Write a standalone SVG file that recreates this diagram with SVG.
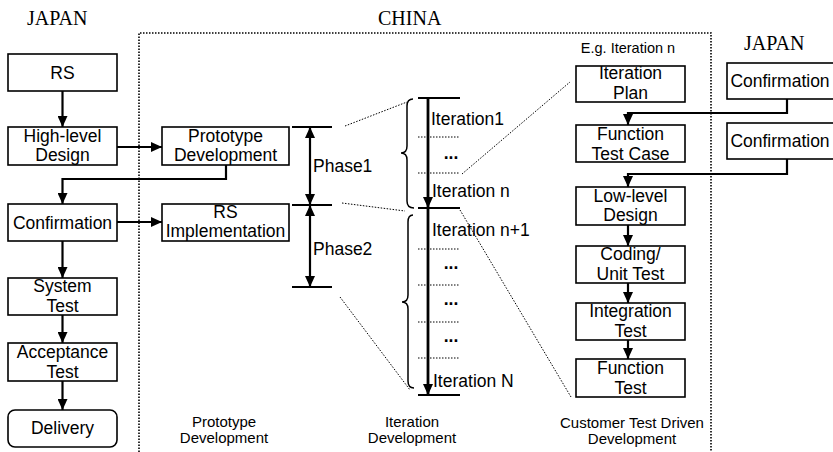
<svg xmlns="http://www.w3.org/2000/svg" width="833" height="452" viewBox="0 0 833 452">
  <style>
    .box { fill: #fff; stroke: #000; stroke-width: 1.6; }
    .lbl { font-family: "Liberation Sans", Arial, sans-serif; font-size: 17.5px; fill: #000; text-anchor: middle; }
    .lft { text-anchor: start; }
    .cap { font-family: "Liberation Sans", Arial, sans-serif; font-size: 15px; fill: #000; text-anchor: middle; }
    .region { font-family: "Liberation Serif", "Times New Roman", serif; font-size: 20px; fill: #000; }
    .dots { font-family: "Liberation Sans", Arial, sans-serif; font-size: 17.5px; font-weight: bold; fill: #000; text-anchor: middle; }
    .conn { fill: none; stroke: #000; stroke-width: 2.2; }
    .thick { fill: none; stroke: #000; stroke-width: 2.8; }
    .tick { fill: none; stroke: #000; stroke-width: 2; }
    .dot { fill: none; stroke: #000; stroke-width: 1; stroke-dasharray: 1.5 1.5; }
    .border { fill: none; stroke: #000; stroke-width: 1.6; stroke-dasharray: 1.5 1.5; }
    .brace { fill: none; stroke: #000; stroke-width: 1.5; }
  </style>
  <defs>
    <marker id="arrow" markerUnits="userSpaceOnUse" markerWidth="11" markerHeight="10" refX="11" refY="5" orient="auto-start-reverse">
      <path d="M0,0 L11,5 L0,10 z" fill="#000"/>
    </marker>
  </defs>

  <!-- region titles and China boundary -->
  <text class="region" x="27" y="25">JAPAN</text>
  <text class="region" x="378" y="25">CHINA</text>
  <text class="region" x="744" y="50">JAPAN</text>
  <path class="border" d="M139,452 L139,33 L711,33 L711,452"/>

  <!-- left column: Japan side -->
  <g id="rs"><rect class="box" x="8" y="54" width="109" height="37"/><text class="lbl" x="62.5" y="79">RS</text></g>
  <g id="high-level-design"><rect class="box" x="8" y="127" width="109" height="38"/><text class="lbl" x="62.5" y="142">High-level</text><text class="lbl" x="62.5" y="161">Design</text></g>
  <g id="confirmation"><rect class="box" x="8" y="204" width="109" height="37"/><text class="lbl" x="62.5" y="228.5">Confirmation</text></g>
  <g id="system-test"><rect class="box" x="8" y="278" width="109" height="37"/><text class="lbl" x="62.5" y="292">System</text><text class="lbl" x="62.5" y="312">Test</text></g>
  <g id="acceptance-test"><rect class="box" x="8" y="343" width="109" height="38"/><text class="lbl" x="62.5" y="358">Acceptance</text><text class="lbl" x="62.5" y="378">Test</text></g>
  <g id="delivery"><rect class="box" x="8" y="410" width="109" height="37" rx="7"/><text class="lbl" x="62.5" y="434">Delivery</text></g>

  <!-- prototype development column -->
  <g id="prototype-development"><rect class="box" x="162" y="127" width="127" height="38"/><text class="lbl" x="225.5" y="142">Prototype</text><text class="lbl" x="225.5" y="161">Development</text></g>
  <g id="rs-implementation"><rect class="box" x="162" y="204" width="127" height="37"/><text class="lbl" x="225.5" y="218">RS</text><text class="lbl" x="225.5" y="237">Implementation</text></g>

  <!-- phases -->
  <g id="phases">
    <path class="tick" d="M292,127 H332 M292,205 H332 M292,287 H332"/>
    <path class="conn" d="M310,127 V205" marker-start="url(#arrow)" marker-end="url(#arrow)"/>
    <path class="conn" d="M310,205 V287" marker-start="url(#arrow)" marker-end="url(#arrow)"/>
    <text class="lbl lft" x="313" y="172">Phase1</text>
    <text class="lbl lft" x="313" y="255">Phase2</text>
  </g>

  <!-- iteration timeline -->
  <g id="iterations">
    <path class="tick" d="M418,98 H460 M418,208 H460 M418,395 H460"/>
    <path class="thick" d="M428,98 V208" marker-end="url(#arrow)"/>
    <path class="thick" d="M428,208 V395" marker-end="url(#arrow)"/>
    <path class="dot" d="M418,137 H460 M418,173 H460 M418,249 H460 M418,285 H460 M418,322 H460 M418,358 H460"/>
    <path class="brace" d="M413,99 Q407,99 407,106 L407,146 Q407,153 401,153 Q407,153 407,160 L407,201 Q407,208 414,208"/>
    <path class="brace" d="M413,215 Q408,215 408,222 L408,295 Q408,302 402,302 Q408,302 408,309 L408,381 Q408,388 414,388"/>
    <text class="lbl lft" x="431" y="125">Iteration1</text>
    <text class="lbl lft" x="432" y="197">Iteration n</text>
    <text class="lbl lft" x="432" y="236">Iteration n+1</text>
    <text class="lbl lft" x="433" y="387">Iteration N</text>
    <text class="dots" x="451" y="158.5">...</text>
    <text class="dots" x="451" y="268.5">...</text>
    <text class="dots" x="451" y="304.5">...</text>
    <text class="dots" x="451" y="341.5">...</text>
  </g>

  <!-- example iteration: customer test driven steps -->
  <text class="cap" x="628" y="53" style="font-size:14.5px">E.g. Iteration n</text>
  <g id="iteration-plan"><rect class="box" x="576" y="66" width="109" height="36"/><text class="lbl" x="630.5" y="79">Iteration</text><text class="lbl" x="630.5" y="98.5">Plan</text></g>
  <g id="function-test-case"><rect class="box" x="576" y="125" width="109" height="37"/><text class="lbl" x="630.5" y="140">Function</text><text class="lbl" x="630.5" y="159.5">Test Case</text></g>
  <g id="low-level-design"><rect class="box" x="576" y="187" width="109" height="38"/><text class="lbl" x="630.5" y="202">Low-level</text><text class="lbl" x="630.5" y="221">Design</text></g>
  <g id="coding-unit-test"><rect class="box" x="576" y="246" width="109" height="37"/><text class="lbl" x="630.5" y="260">Coding/</text><text class="lbl" x="630.5" y="280">Unit Test</text></g>
  <g id="integration-test"><rect class="box" x="576" y="303" width="109" height="37"/><text class="lbl" x="630.5" y="317">Integration</text><text class="lbl" x="630.5" y="337">Test</text></g>
  <g id="function-test"><rect class="box" x="576" y="359" width="109" height="38"/><text class="lbl" x="630.5" y="374">Function</text><text class="lbl" x="630.5" y="394">Test</text></g>

  <!-- right column: Japan confirmations -->
  <g id="confirmation-1"><rect class="box" x="727" y="63" width="112" height="36"/><text class="lbl" x="780" y="87">Confirmation</text></g>
  <g id="confirmation-2"><rect class="box" x="727" y="123" width="112" height="36"/><text class="lbl" x="780" y="147">Confirmation</text></g>

  <!-- connectors -->
  <g id="connectors">
    <path class="conn" d="M62.5,91 V127" marker-end="url(#arrow)"/>
    <path class="conn" d="M117,147 H162" marker-end="url(#arrow)"/>
    <path class="conn" d="M226,165 V179 H62.5 V204" marker-end="url(#arrow)"/>
    <path class="conn" d="M117,222 H162" marker-end="url(#arrow)"/>
    <path class="conn" d="M62.5,241 V278" marker-end="url(#arrow)"/>
    <path class="conn" d="M62.5,315 V343" marker-end="url(#arrow)"/>
    <path class="conn" d="M62.5,381 V410" marker-end="url(#arrow)"/>
    <path class="conn" d="M787,99 V113 H628 V125" marker-end="url(#arrow)"/>
    <path class="conn" d="M787,159 V174 H628 V187" marker-end="url(#arrow)"/>
    <path class="conn" d="M628,225 V246" marker-end="url(#arrow)"/>
    <path class="conn" d="M628,283 V303" marker-end="url(#arrow)"/>
    <path class="conn" d="M628,340 V359" marker-end="url(#arrow)"/>
    <!-- zoom guides between phases, iterations and the example -->
    <path class="dot" d="M345,126 L407,102"/>
    <path class="dot" d="M342,203 L405,211"/>
    <path class="dot" d="M340,297 L410,390"/>
    <path class="dot" d="M462,174 L570,82"/>
    <path class="dot" d="M460,210 L571,397"/>
  </g>

  <!-- column captions -->
  <text class="cap" x="224" y="427">Prototype</text>
  <text class="cap" x="224" y="443">Development</text>
  <text class="cap" x="412" y="427">Iteration</text>
  <text class="cap" x="412" y="443">Development</text>
  <text class="cap" x="632" y="428">Customer Test Driven</text>
  <text class="cap" x="632" y="444">Development</text>
</svg>
